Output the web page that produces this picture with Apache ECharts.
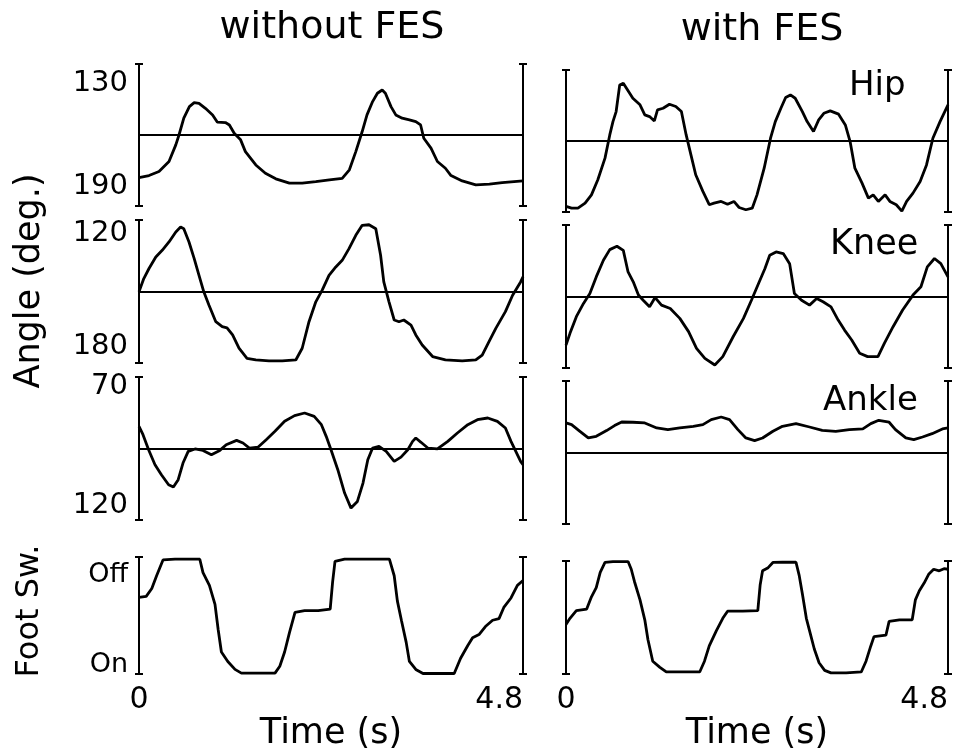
<!DOCTYPE html>
<html><head><meta charset="utf-8">
<script src="https://cdn.jsdelivr.net/npm/echarts@6/dist/echarts.min.js"></script>
<style>html,body{margin:0;padding:0;background:#fff}#c{width:956px;height:752px}</style>
</head><body><div id="c"></div>
<script>
// ---- data (time in s, angle in deg, foot switch in % of Off) ----
const columnTitles = ['without FES', 'with FES'];
const rowNames = ['Hip', 'Knee', 'Ankle', 'Foot Sw.'];
const timeTicks = [0, 4.8];
const hipTicks = [130, 190];
const kneeTicks = [120, 180];
const ankleTicks = [70, 120];
const footTicks = [8, 85];
const footTickNames = ['On', 'Off'];
const refLines = [160, 151, 96];

const hipWithout = [[0,184.6],[.125,183.4],[.25,181.1],[.375,175.3],[.46,165.7],[.5,160.0],[.56,150.3],[.63,143.6],[.69,141.3],[.75,141.7],[.83,144.6],[.92,148.4],[.98,152.6],[1.08,152.8],[1.13,154.2],[1.19,159.0],[1.27,162.8],[1.33,169.6],[1.46,177.3],[1.58,182.1],[1.71,185.3],[1.88,187.8],[2.04,187.8],[2.21,186.9],[2.38,185.9],[2.54,185.0],[2.63,180.1],[2.71,169.6],[2.79,158.0],[2.85,148.4],[2.92,140.7],[2.98,135.9],[3.04,134.0],[3.08,135.9],[3.15,143.6],[3.21,148.4],[3.29,150.3],[3.38,151.3],[3.46,152.3],[3.52,154.2],[3.56,161.9],[3.65,167.6],[3.73,175.3],[3.83,179.2],[3.90,183.4],[4.04,186.5],[4.21,188.8],[4.38,188.4],[4.54,187.5],[4.8,186.5]];
const hipWith = [[0,197.8],[.07,198.8],[.15,198.8],[.24,195.9],[.32,191.1],[.40,182.4],[.49,169.9],[.55,156.5],[.59,148.8],[.63,143.0],[.675,127.6],[.72,126.6],[.76,129.5],[.84,135.3],[.93,139.1],[.99,144.9],[1.05,145.9],[1.11,148.4],[1.15,142.0],[1.22,141.1],[1.30,138.8],[1.38,140.1],[1.45,143.0],[1.51,156.5],[1.57,168.0],[1.63,179.5],[1.72,189.1],[1.80,196.8],[1.86,195.9],[1.95,194.9],[2.03,196.5],[2.11,194.9],[2.175,198.4],[2.26,199.7],[2.34,198.8],[2.40,191.1],[2.49,175.7],[2.57,158.4],[2.63,148.8],[2.70,141.1],[2.76,134.9],[2.82,133.4],[2.88,135.3],[2.97,143.0],[3.03,148.8],[3.11,154.5],[3.175,147.8],[3.24,144.0],[3.32,142.6],[3.425,144.5],[3.51,150.7],[3.57,160.3],[3.63,175.7],[3.72,184.3],[3.80,193.0],[3.86,191.1],[3.925,194.9],[4.01,191.1],[4.07,194.9],[4.15,196.8],[4.22,200.5],[4.28,194.9],[4.36,190.1],[4.45,183.4],[4.53,173.8],[4.61,158.4],[4.70,148.8],[4.8,139.1]];
const kneeWithout = [[0,150.9],[.06,143.9],[.125,138.6],[.21,132.5],[.29,129.0],[.375,124.6],[.46,119.3],[.52,116.7],[.56,117.6],[.625,124.6],[.69,133.4],[.75,142.2],[.81,150.9],[.875,158.0],[.96,166.7],[1.04,169.3],[1.10,169.9],[1.17,173.7],[1.25,180.7],[1.35,186.0],[1.46,186.9],[1.625,187.4],[1.79,187.4],[1.96,186.9],[2.04,180.7],[2.125,166.7],[2.21,156.2],[2.29,150.0],[2.375,142.2],[2.46,137.8],[2.54,134.3],[2.625,128.1],[2.71,121.1],[2.79,115.8],[2.875,115.5],[2.96,117.6],[3.02,131.6],[3.06,145.7],[3.125,156.2],[3.19,165.8],[3.25,166.7],[3.31,165.8],[3.40,168.5],[3.46,173.7],[3.54,179.0],[3.67,185.1],[3.83,186.9],[4.04,187.4],[4.21,186.9],[4.29,184.3],[4.375,177.2],[4.46,170.2],[4.58,161.4],[4.67,152.7],[4.77,145.7],[4.8,143.0]];
const kneeWith = [[0,176.4],[.05,170.2],[.13,161.4],[.22,154.4],[.30,149.2],[.38,140.4],[.47,131.6],[.55,126.0],[.64,124.2],[.72,126.4],[.78,137.8],[.845,143.0],[.91,150.0],[.97,152.7],[1.05,156.2],[1.12,151.3],[1.20,155.3],[1.31,157.1],[1.43,162.3],[1.54,169.3],[1.64,178.1],[1.745,183.4],[1.87,186.9],[1.97,182.5],[2.10,172.0],[2.23,162.3],[2.33,152.7],[2.41,144.8],[2.50,136.0],[2.56,129.0],[2.64,127.2],[2.73,128.1],[2.81,133.4],[2.87,149.2],[2.96,152.7],[3.06,155.3],[3.15,151.8],[3.23,153.5],[3.33,156.2],[3.42,163.2],[3.50,168.5],[3.59,173.7],[3.69,180.7],[3.79,182.5],[3.92,182.5],[4.00,175.5],[4.11,166.7],[4.23,157.9],[4.36,150.0],[4.46,145.6],[4.54,135.1],[4.63,130.7],[4.71,133.4],[4.8,140.4]];
const ankleWithout = [[0,86.7],[.05,90.2],[.12,96.5],[.20,102.8],[.28,107.0],[.37,111.2],[.43,112.2],[.49,109.1],[.55,102.1],[.615,97.2],[.70,96.2],[.80,96.8],[.905,98.6],[1.01,96.8],[1.09,94.4],[1.22,92.6],[1.30,93.7],[1.38,95.8],[1.49,95.4],[1.59,92.3],[1.70,88.8],[1.82,84.6],[1.945,82.2],[2.07,81.1],[2.19,82.5],[2.28,86.0],[2.34,90.9],[2.40,96.5],[2.485,104.9],[2.57,114.7],[2.65,121.0],[2.73,118.2],[2.80,110.5],[2.86,100.7],[2.92,95.8],[3.00,95.1],[3.09,97.2],[3.19,101.4],[3.275,99.6],[3.36,96.5],[3.42,93.0],[3.46,91.6],[3.525,93.4],[3.61,95.8],[3.73,96.2],[3.86,93.0],[3.98,89.5],[4.11,86.0],[4.23,83.9],[4.36,83.2],[4.48,84.6],[4.58,87.4],[4.65,93.0],[4.71,97.2],[4.77,101.4],[4.8,102.8]];
const ankleWith = [[0,83.6],[.07,84.3],[.175,87.1],[.28,89.9],[.38,89.2],[.51,86.8],[.61,84.7],[.70,83.2],[.84,83.3],[.99,83.6],[1.14,85.7],[1.28,86.4],[1.43,85.7],[1.60,85.0],[1.72,84.3],[1.825,82.2],[1.95,81.1],[2.055,82.2],[2.16,86.4],[2.26,89.9],[2.37,91.0],[2.47,89.9],[2.60,87.1],[2.72,85.0],[2.89,83.9],[3.06,85.3],[3.22,86.7],[3.39,87.1],[3.56,86.4],[3.73,86.1],[3.83,83.9],[3.93,82.5],[4.06,83.3],[4.14,86.4],[4.27,89.9],[4.37,90.6],[4.48,89.5],[4.60,88.1],[4.73,86.1],[4.8,85.7]];
const footWithout = [[0,65.6],[.09,66.4],[.16,73.1],[.22,84.0],[.30,97.5],[.45,98.1],[.76,98.1],[.80,86.7],[.88,75.8],[.95,59.6],[.99,37.9],[1.03,18.9],[1.11,10.8],[1.20,4.0],[1.28,0.8],[1.49,0.8],[1.70,0.8],[1.76,6.7],[1.82,18.9],[1.88,35.2],[1.95,52.8],[2.07,54.2],[2.24,54.2],[2.39,55.5],[2.42,78.6],[2.45,96.2],[2.57,98.1],[2.82,98.1],[3.13,98.1],[3.19,84.0],[3.23,62.3],[3.28,46.0],[3.34,27.1],[3.38,10.8],[3.46,4.0],[3.55,0.5],[3.73,0.5],[3.94,0.5],[4.02,13.5],[4.11,24.4],[4.17,31.1],[4.25,33.8],[4.33,40.6],[4.42,46.0],[4.50,47.4],[4.56,56.9],[4.65,65.0],[4.73,75.8],[4.8,79.9]];
const footWith = [[0,43.9],[.05,49.3],[.13,56.1],[.26,57.5],[.32,68.3],[.38,76.4],[.43,90.0],[.49,98.7],[.59,99.5],[.78,99.5],[.82,92.7],[.86,81.9],[.93,65.6],[.99,48.0],[1.03,30.4],[1.09,11.4],[1.18,6.0],[1.26,1.9],[1.47,1.9],[1.68,1.9],[1.74,11.4],[1.80,24.9],[1.89,38.5],[1.97,49.3],[2.03,55.6],[2.22,55.6],[2.41,56.1],[2.44,79.1],[2.47,91.3],[2.54,94.1],[2.60,98.7],[2.72,98.9],[2.89,98.9],[2.93,87.3],[2.97,71.0],[3.02,49.3],[3.06,38.5],[3.12,22.2],[3.18,10.0],[3.25,3.3],[3.33,1.1],[3.52,1.1],[3.71,1.9],[3.77,11.4],[3.83,24.9],[3.87,33.1],[4.02,34.4],[4.06,46.6],[4.19,48.0],[4.35,48.0],[4.39,65.6],[4.44,73.7],[4.50,80.5],[4.56,88.6],[4.62,92.7],[4.69,91.3],[4.75,93.2],[4.8,92.7]];

// ---- layout ----
const FONT = 'DejaVu Sans';
const colLeft = [139, 566];
const colWidth = [384, 382];
const rowTop = [[64, 220, 377, 557], [70, 225, 381, 561]];
const rowHeight = [142, 143, 143, 123];
const rows = [
  {min: 119, max: 201, inverse: true, ticks: hipTicks, data: [hipWithout, hipWith], ref: refLines[0]},
  {min: 113, max: 188.5, inverse: true, ticks: kneeTicks, data: [kneeWithout, kneeWith], ref: refLines[1]},
  {min: 66, max: 126, inverse: true, ticks: ankleTicks, data: [ankleWithout, ankleWith], ref: refLines[2]},
  {min: 0, max: 100, inverse: false, ticks: footTicks, data: [footWithout, footWith], ref: null,
   fmt: v => footTickNames[footTicks.indexOf(v)]}
];

const grid = [], xAxis = [], yAxis = [], series = [];
for (let c = 0; c < 2; c++) {
  for (let r = 0; r < 4; r++) {
    const g = grid.length;
    const R = rows[r];
    grid.push({left: colLeft[c], width: colWidth[c], top: rowTop[c][r], height: rowHeight[r]});
    const bottom = r === 3;
    xAxis.push({
      type: 'value', gridIndex: g, min: 0, max: 4.8,
      axisLine: {show: false, onZero: false}, axisTick: {show: false}, splitLine: {show: false},
      axisLabel: {show: bottom, customValues: timeTicks, color: '#000', fontSize: 30, fontFamily: FONT,
        margin: 11, alignMinLabel: 'center', alignMaxLabel: 'right', formatter: v => String(v)},
      name: bottom ? 'Time (s)' : '', nameLocation: 'middle', nameGap: 33,
      nameTextStyle: {color: '#000', fontSize: 35, fontFamily: FONT}
    });
    const baseY = yAxis.length;
    ['left', 'right'].forEach(pos => {
      [false, true].forEach(inside => {
        const main = pos === 'left' && !inside;
        yAxis.push({
          type: 'value', gridIndex: g, position: pos, min: R.min, max: R.max, inverse: R.inverse,
          axisLine: {show: !inside, onZero: false, lineStyle: {color: '#000', width: 2}},
          axisTick: {show: true, inside: inside, length: 4, customValues: [R.min, R.max],
            lineStyle: {color: '#000', width: 2}},
          splitLine: {show: false},
          axisLabel: {show: main && c === 0, customValues: R.ticks, color: '#000',
            fontSize: r === 3 ? 27 : 29, fontFamily: FONT, margin: 11,
            formatter: R.fmt ? R.fmt : (v => String(v))}
        });
      });
    });
    const s = {
      type: 'line', xAxisIndex: g, yAxisIndex: baseY, data: R.data[c],
      showSymbol: false, smooth: false, silent: true,
      lineStyle: {color: '#000', width: 2.8}
    };
    if (R.ref !== null) {
      s.markLine = {symbol: ['none', 'none'], silent: true, label: {show: false},
        lineStyle: {color: '#000', width: 2, type: 'solid'}, data: [{yAxis: R.ref}]};
    }
    series.push(s);
  }
}

const txt = (text, x, y, size, align, rot) => ({
  type: 'text', x: x, y: y, rotation: rot || 0,
  style: {text: text, fill: '#000', font: size + 'px "' + FONT + '"', align: align || 'center', verticalAlign: 'middle'}
});

const chart = echarts.init(document.getElementById('c'), null, {renderer: 'canvas'});
chart.setOption({
  animation: false,
  backgroundColor: '#fff',
  grid, xAxis, yAxis, series,
  graphic: [
    txt(columnTitles[0], 332, 28, 38),
    txt(columnTitles[1], 762, 30, 38),
    txt(rowNames[0], 849, 86, 34, 'left'),
    txt(rowNames[1], 830, 245, 35, 'left'),
    txt(rowNames[2], 823, 401, 34, 'left'),
    txt('Angle (deg.)', 30, 281, 35, 'center', Math.PI / 2),
    txt(rowNames[3], 30, 611, 32, 'center', Math.PI / 2)
  ]
});
</script></body></html>
